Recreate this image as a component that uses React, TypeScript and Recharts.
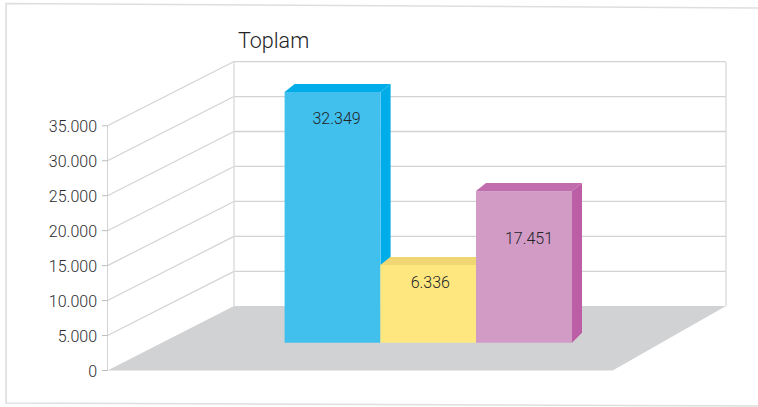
import React from "react";
import { BarChart, Bar, XAxis, YAxis, LabelList, CartesianGrid } from "recharts";

const categories = ["Seri 1", "Seri 2", "Seri 3"];
const totals = [32349, 6336, 17451];
const axisTicks = [0, 5000, 10000, 15000, 20000, 25000, 30000, 35000];
const frontColors = ["#41c0ee", "#ffe780", "#d19bc5"];
const sideColors = ["#00ade9", "#f0d774", "#bb5ea6"];
const topColors = ["#00ade9", "#f0d774", "#c16cac"];
const labelDrops = [26, 17, 47.5];
const labelShifts = [4, 2, 5];

const title = "Toplam";
const chartData = categories.map((name, i) => ({ name, total: totals[i] }));

const FONT = 'Roboto, "Liberation Sans", Arial, sans-serif';
const TEXT = "#2c2c2f";
const LINE = "#d3d3d3";
const DEPTH_X = 10;
const DEPTH_Y = 8;
const SIDE_X = 107.5;
const BACK_L = 234;
const BACK_R = 726;
const WALL_LIFT = 64.2;
const BAR_FLOOR = -5351;
const fmt = (v: number) => String(v).replace(/\B(?=(\d{3})+$)/g, ".");

function WallLine(props: any) {
  const y = props.y1;
  if (y > 370) return <g />;
  const by = y - WALL_LIFT;
  return (
    <g>
      <line x1={SIDE_X} y1={y} x2={BACK_L} y2={by} stroke={LINE} strokeWidth={1.2} />
      <line x1={BACK_L} y1={by} x2={BACK_R} y2={by} stroke={LINE} strokeWidth={1.3} />
    </g>
  );
}

function AxisTick(props: any) {
  const { y, payload } = props;
  return (
    <g>
      <line x1={102} y1={y} x2={SIDE_X} y2={y} stroke="#bdbdbd" strokeWidth={1} />
      <text x={97} y={y} dy={6.2} textAnchor="end" fontFamily={FONT} fontWeight={300} fontSize={16} fill={TEXT}>
        {fmt(payload.value)}
      </text>
    </g>
  );
}

function Bar3D(props: any) {
  const { x, y, width, height, index } = props;
  const r = x + width;
  const b = y + height;
  return (
    <g>
      <polygon
        points={`${r},${y} ${r + DEPTH_X},${y - DEPTH_Y} ${r + DEPTH_X},${b - DEPTH_Y - 2} ${r},${b}`}
        fill={sideColors[index]}
      />
      <polygon
        points={`${x},${y} ${x + DEPTH_X},${y - DEPTH_Y} ${r + DEPTH_X},${y - DEPTH_Y} ${r},${y}`}
        fill={topColors[index]}
      />
      <rect x={x} y={y} width={width} height={height} fill={frontColors[index]} />
    </g>
  );
}

function BarValue(props: any) {
  const { x, y, width, value, index } = props;
  return (
    <text
      x={x + width / 2 + labelShifts[index]}
      y={y + labelDrops[index]}
      dy={5.8}
      textAnchor="middle"
      fontFamily={FONT}
      fontWeight={300}
      fontSize={16}
      fill="#232326"
    >
      {fmt(value)}
    </text>
  );
}

export default function App() {
  return (
    <div style={{ position: "absolute", left: 0, top: 0, width: 758, height: 407, background: "#fff" }}>
      <BarChart
        width={758}
        height={407}
        data={chartData}
        margin={{ top: 62, right: 32, bottom: 36.5, left: 0 }}
        barCategoryGap={0}
      >
        <polyline points="758,8 6,3.5 6,403 758,406" fill="none" stroke="#dedede" strokeWidth={1.6} />
        <text x={238} y={48} fontFamily={FONT} fontWeight={300} fontSize={21.5} fill="#232326">
          {title}
        </text>
        <line x1={SIDE_X} y1={125.8} x2={SIDE_X} y2={370.5} stroke={LINE} strokeWidth={1} />
        <line x1={BACK_L} y1={62} x2={BACK_L} y2={306} stroke="#dcdcdc" strokeWidth={1.4} />
        <line x1={BACK_R} y1={62} x2={BACK_R} y2={306} stroke="#dcdcdc" strokeWidth={1.4} />
        <XAxis dataKey="name" hide padding={{ left: 177.6, right: 154.3 }} />
        <YAxis
          yAxisId="front"
          width={107}
          domain={[0, 44122]}
          allowDataOverflow
          ticks={axisTicks}
          interval={0}
          axisLine={false}
          tickLine={false}
          tick={AxisTick}
        />
        <YAxis yAxisId="bars" hide domain={[-9530, 36860]} allowDataOverflow />
        <CartesianGrid
          yAxisId="front"
          vertical={false}
          horizontal={WallLine}
          horizontalValues={axisTicks}
        />
        <polygon points="107.5,370.5 234,306 726,306 612.7,370.5" fill="#d1d2d4" />
        <Bar
          yAxisId="bars"
          dataKey={(d: any) => [BAR_FLOOR, d.total]}
          shape={Bar3D}
          isAnimationActive={false}
        >
          <LabelList dataKey="total" content={BarValue} />
        </Bar>
      </BarChart>
    </div>
  );
}
